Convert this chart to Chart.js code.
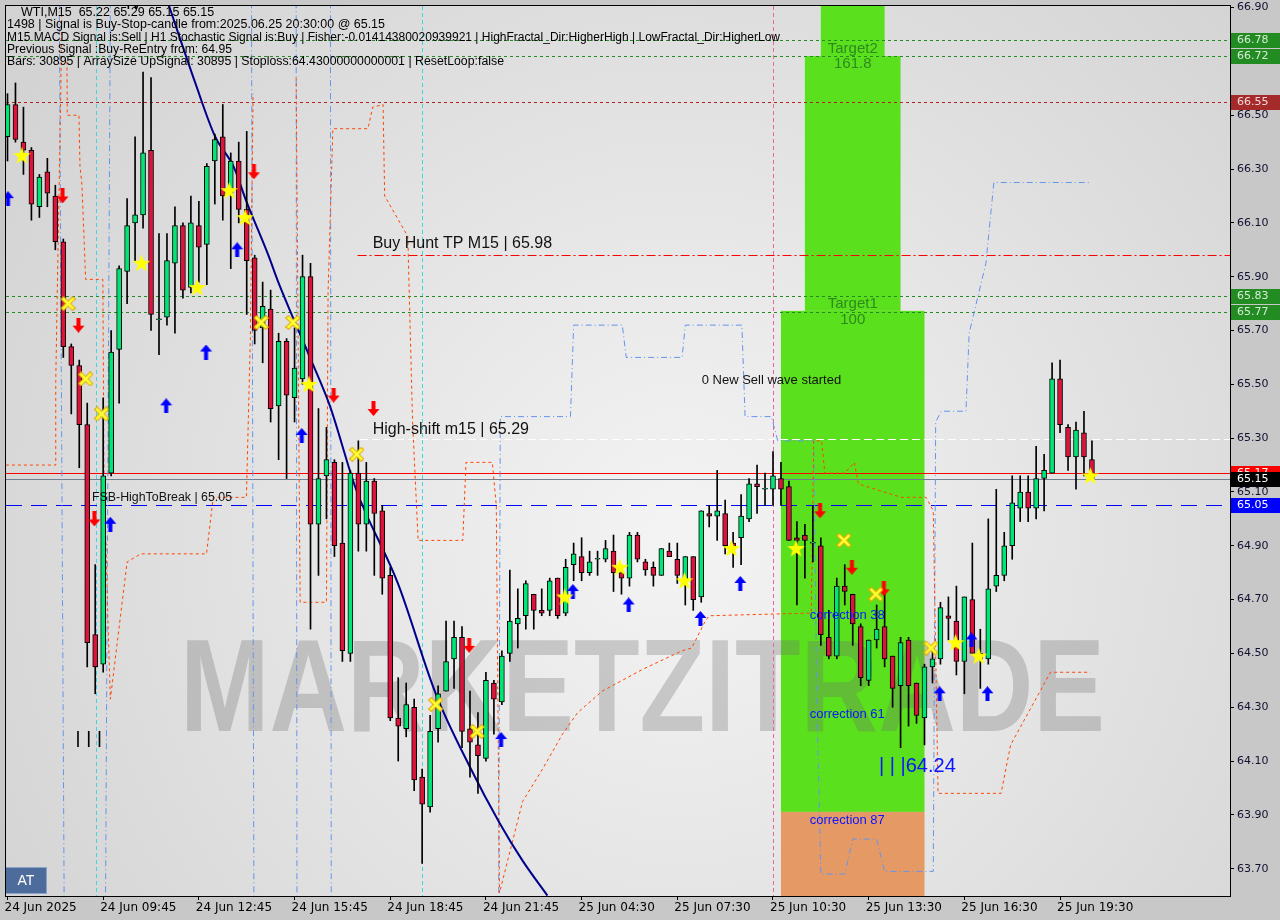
<!DOCTYPE html>
<html>
<head>
<meta charset="utf-8">
<title>WTI M15</title>
<script src="https://cdn.jsdelivr.net/npm/chart.js@4.4.1/dist/chart.umd.min.js"></script>
<style>
  html, body { margin: 0; padding: 0; background: #c8c8c8; }
  canvas { display: block; }
</style>
</head>
<body>
<canvas id="wti" width="1280" height="920"></canvas>
<script>
// candles, 15 min bars, 24 Jun -> 25 Jun 2025
const opens = [66.42,66.54,66.40,66.37,66.16,66.29,66.20,66.03,65.64,65.57,
  65.35,64.57,64.46,65.17,65.63,65.92,66.10,66.13,66.37,65.74,
  65.75,65.95,66.09,65.86,66.09,66.02,66.33,66.42,66.21,66.33,
  66.15,65.97,65.71,65.78,65.42,65.66,65.45,65.52,65.90,64.98,
  65.16,65.21,64.91,64.50,65.17,64.98,65.14,65.03,64.79,64.26,
  64.22,64.30,64.04,63.93,64.22,64.36,64.48,64.56,64.22,64.16,
  64.11,64.39,64.32,64.50,64.61,64.64,64.72,64.66,64.66,64.78,
  64.65,64.83,64.86,64.80,64.85,64.85,64.88,64.80,64.78,64.94,
  64.84,64.82,64.79,64.88,64.85,64.76,64.86,64.71,65.02,65.01,
  65.02,64.91,64.93,65.00,65.13,65.11,65.11,65.15,65.12,64.93,
  64.94,64.91,64.90,64.56,64.49,64.75,64.72,64.60,64.40,64.55,
  64.60,64.49,64.38,64.55,64.39,64.26,64.45,64.48,64.64,64.62,
  64.47,64.70,64.48,64.48,64.75,64.79,64.90,65.04,65.10,65.04,
  65.15,65.17,65.52,65.34,65.23,65.32,65.22];
const highs = [66.58,66.62,66.53,66.38,66.28,66.34,66.24,66.04,65.65,65.59,
  65.43,64.83,65.45,65.70,65.94,66.19,66.42,66.66,66.64,66.06,
  66.06,66.16,66.10,66.20,66.18,66.32,66.43,66.54,66.36,66.40,
  66.44,65.98,65.88,65.85,65.69,65.67,65.71,65.98,65.95,65.41,
  65.34,65.22,65.21,65.18,65.29,65.21,65.15,65.05,64.82,64.41,
  64.39,64.33,64.07,64.27,64.38,64.62,64.62,64.60,64.36,64.28,
  64.43,64.40,64.51,64.81,64.74,64.77,64.72,64.74,64.78,64.78,
  64.85,64.91,64.93,64.88,64.88,64.92,64.94,64.82,64.95,64.95,
  64.85,64.84,64.89,64.91,64.91,64.86,64.86,65.03,65.05,65.18,
  65.07,64.95,65.09,65.15,65.20,65.17,65.25,65.21,65.14,64.99,
  64.98,65.05,64.93,64.66,64.78,64.83,64.72,64.61,64.55,64.68,
  64.74,64.49,64.56,64.56,64.39,64.46,64.52,64.69,64.71,64.75,
  64.71,64.91,64.59,65.00,65.11,64.95,65.16,65.16,65.16,65.27,
  65.24,65.58,65.59,65.35,65.36,65.40,65.29];
const lows = [66.33,66.40,66.28,66.11,66.12,66.16,66.00,65.60,65.39,65.19,
  64.45,64.35,64.43,65.16,65.43,65.80,65.96,66.08,65.70,65.61,
  65.72,65.69,65.82,65.84,65.88,65.87,66.17,66.11,65.93,66.10,
  65.76,65.65,65.58,65.36,65.22,65.15,65.36,65.50,64.59,64.79,
  65.00,64.86,64.47,64.47,64.88,64.88,64.79,64.72,64.25,64.10,
  64.19,63.99,63.72,63.91,64.17,64.36,64.37,64.15,64.04,63.98,
  64.10,64.20,64.31,64.47,64.52,64.59,64.59,64.64,64.64,64.63,
  64.64,64.77,64.77,64.79,64.79,64.84,64.73,64.72,64.75,64.84,
  64.79,64.75,64.79,64.86,64.76,64.68,64.66,64.69,64.97,64.92,
  64.87,64.82,64.83,64.99,65.02,65.05,65.05,65.05,64.92,64.68,
  64.78,64.84,64.53,64.48,64.48,64.68,64.53,64.38,64.38,64.52,
  64.45,64.30,64.15,64.23,64.24,64.16,64.39,64.46,64.55,64.42,
  64.35,64.50,64.37,64.46,64.73,64.77,64.85,64.99,64.99,65.00,
  65.03,65.17,65.32,65.18,65.11,65.16,65.15];
const closes = [66.54,66.41,66.37,66.17,66.27,66.21,66.03,65.64,65.57,65.35,
  64.54,64.45,65.16,65.62,65.93,66.09,66.13,66.36,65.76,65.74,
  65.96,66.09,65.85,66.10,66.01,66.31,66.41,66.20,66.33,66.15,
  65.96,65.70,65.79,65.41,65.66,65.46,65.56,65.90,64.98,65.15,
  65.22,64.90,64.51,65.17,64.98,65.14,65.02,64.78,64.26,64.23,
  64.31,64.03,63.94,64.21,64.35,64.47,64.56,64.21,64.17,64.12,
  64.40,64.33,64.49,64.62,64.63,64.76,64.66,64.65,64.77,64.64,
  64.82,64.87,64.80,64.84,64.85,64.89,64.80,64.78,64.94,64.85,
  64.81,64.79,64.89,64.86,64.79,64.86,64.70,65.03,65.01,65.03,
  64.90,64.89,65.01,65.13,65.12,65.11,65.16,65.11,64.92,64.92,
  64.92,64.91,64.57,64.49,64.75,64.73,64.61,64.41,64.55,64.59,
  64.48,64.37,64.54,64.38,64.27,64.45,64.48,64.67,64.63,64.47,
  64.71,64.50,64.50,64.74,64.79,64.90,65.06,65.10,65.04,65.15,
  65.18,65.52,65.35,65.23,65.33,65.23,65.15];

const xTickBars = [0, 12, 24, 36, 48, 60, 72, 84, 96, 108, 120, 132];
const xTickLabels = ["24 Jun 2025", "24 Jun 09:45", "24 Jun 12:45", "24 Jun 15:45", "24 Jun 18:45", "24 Jun 21:45",
  "25 Jun 04:30", "25 Jun 07:30", "25 Jun 10:30", "25 Jun 13:30", "25 Jun 16:30", "25 Jun 19:30"];
const yTickValues = [63.70, 63.90, 64.10, 64.30, 64.50, 64.70, 64.90, 65.10, 65.30, 65.50, 65.70, 65.90, 66.10, 66.30, 66.50, 66.70, 66.90];

// horizontal levels (price, first bar; -1 = whole chart)
const levelPrices = [66.78, 66.72, 66.55, 65.98, 65.83, 65.77, 65.295, 65.17, 65.15, 65.05];
const levelFrom = [-1, -1, -1, 43.9, -1, -1, 44.2, -1, -1, -1];
const buyHuntTP = 65.98, highShift = 65.29, fsbHigh = 65.05, lowMark = 64.24;

// target / correction zones
const zoneFrom = [97, 100, 102, 97];
const zoneTo = [115, 112, 110, 115];
const zoneLow = [63.911, 65.773, 66.72, 63.40];
const zoneHigh = [65.773, 66.72, 67.10, 63.911];
const correctionLevels = [64.643, 64.273, 63.880];
const correctionNames = ["correction 38", "correction 61", "correction 87"];

// vertical signal lines
const vlineBars = [11.06, 51.94, 95.94];

// regression curve
const curveBars = [20.1, 23.55, 26.05, 28.34, 29.96, 32.71, 33.96, 37.93, 40.43, 43.71, 48.96, 53.71, 57.96, 61.71, 64.59, 67.71];
const curvePrices = [66.92, 66.62, 66.42, 66.31, 66.18, 65.98, 65.88, 65.60, 65.42, 65.11, 64.76, 64.35, 64.08, 63.87, 63.73, 63.60];

// orange trailing lines (null breaks a segment)
const orangeBars = [-0.2, 6.05, 6.05, 6.7, 6.8, null,
  7.45, 7.5, 8.96, 9.09, 9.34, 9.8, 11.96, 12.09, 12.6, 12.9, 15.0, 16.7, 24.96, 25.8, 29.96, 30.46, 30.8, null,
  36.2, 36.7, 40.0, 40.2, 40.8, 45.2, 45.8, 47.1, 47.3, 50.2, 50.8, 51.5, 57.1, 57.5, 60.8, 61.3, 61.7,
  64.6, 67.1, 69.6, 71.5, 74.6, 79.6, 84.6, 85.8, 87.5, 88.0, 100.8, 101.1, 102.1, 102.5, 105.0, 106.2, 106.7,
  112.1, 115.2, 116.1, 116.7, 124.6, 125.8, 130.8, 135.8];
const orangePrices = [65.20, 65.20, 65.51, 66.62, 66.92, null,
  66.70, 66.50, 66.50, 66.31, 66.24, 65.89, 65.89, 65.20, 64.62, 64.33, 64.84, 64.87, 64.87, 65.08, 65.08, 65.68, 66.58, null,
  66.64, 64.69, 64.69, 65.84, 66.45, 66.45, 66.53, 66.54, 66.20, 66.05, 65.36, 64.92, 64.92, 65.21, 65.21, 65.05, 63.61,
  63.95, 64.07, 64.20, 64.28, 64.36, 64.44, 64.51, 64.52, 64.62, 64.64, 64.65, 65.29, 65.29, 65.17, 65.17, 65.21, 65.13,
  65.08, 65.08, 65.03, 63.98, 63.98, 64.16, 64.43, 64.43];

// blue band lines
const blueBars = [6.5, 7.1, null, 12.9, 12.3, null, 30.6, 30.9, null, 36.2, 36.3, null, 40.5, 40.6, null,
  61.6, 61.8, 70.6, 71.0, 77.1, 77.6, 84.6, 85.0, 92.1, 92.5, 95.8, 96.6, 101.1, 101.5, 102.0, 105.0, 106.0,
  109.0, 110.0, 116.1, 116.4, 117.1, 120.2, 120.6, 122.7, 123.7, 135.8];
const bluePrices = [66.92, 63.60, null, 66.92, 63.60, null, 66.92, 63.60, null, 66.92, 63.60, null, 66.92, 63.60, null,
  63.61, 65.38, 65.38, 65.72, 65.72, 65.60, 65.60, 65.72, 65.72, 65.38, 65.38, 65.29, 65.29, 64.32, 63.68, 63.68, 63.81,
  63.81, 63.69, 63.69, 65.36, 65.40, 65.40, 65.69, 65.95, 66.25, 66.25];

// signal marks
const starBars = [1.81, 16.8, 23.8, 27.8, 29.8, 37.8, 69.9, 76.8, 84.9, 90.8, 98.9, 118.9, 121.8, 135.8];
const starPrices = [66.35, 65.95, 65.86, 66.22, 66.12, 65.50, 64.71, 64.82, 64.77, 64.89, 64.89, 64.54, 64.49, 65.16];
const crossBars = [7.6, 9.8, 11.8, 31.8, 35.8, 43.8, 53.7, 58.9, 104.9, 108.9, 115.8];
const crossPrices = [65.80, 65.52, 65.39, 65.73, 65.73, 65.24, 64.31, 64.21, 64.92, 64.72, 64.52];
const sellBars = [6.9, 8.9, 10.9, 30.9, 40.9, 45.9, 57.9, 101.9, 105.9, 109.9];
const sellPrices = [66.20, 65.72, 65.00, 66.29, 65.46, 65.41, 64.53, 65.03, 64.82, 64.74];
const buyBars = [0.06, 12.9, 19.9, 24.9, 28.8, 36.9, 61.9, 70.9, 77.9, 86.9, 91.9, 116.9, 120.9, 122.9];
const buyPrices = [66.19, 64.98, 65.42, 65.62, 66.00, 65.31, 64.18, 64.73, 64.68, 64.63, 64.76, 64.35, 64.55, 64.35];

// axis price tags
const tagPrices = [66.78, 66.72, 66.55, 65.83, 65.77, 65.17, 65.15, 65.05];
const tagColors = ["#228b22", "#228b22", "#a52a2a", "#228b22", "#228b22", "#ff0000", "#000000", "#0000ff"];
const tagText = ["#d6ecd6", "#d6ecd6", "#f2dada", "#d6ecd6", "#d6ecd6", "#ffffff", "#ffffff", "#ffffff"];

const BULL = "#00e676", BEAR = "#dc143c";
const pts = (xs, ys) => xs.map((x, i) => ({x: x, y: x === null ? null : ys[i]}));

// ---- point images ----
function starImg() {
  const c = document.createElement("canvas"); c.width = 19; c.height = 19;
  const g = c.getContext("2d");
  g.beginPath();
  for (let k = 0; k < 10; k++) {
    const r = k % 2 ? 3.8 : 9.2, a = -Math.PI / 2 + k * Math.PI / 5;
    g.lineTo(9.5 + r * Math.cos(a), 10 + r * Math.sin(a));
  }
  g.closePath(); g.fillStyle = "#ffff00"; g.fill();
  return c;
}
function crossImg() {
  const c = document.createElement("canvas"); c.width = 15; c.height = 15;
  const g = c.getContext("2d");
  const x = () => { g.beginPath(); g.moveTo(3, 3); g.lineTo(12, 12); g.moveTo(12, 3); g.lineTo(3, 12); g.stroke(); };
  g.lineCap = "square";
  g.strokeStyle = "#e0a800"; g.lineWidth = 4.5; x();
  g.strokeStyle = "#ffff33"; g.lineWidth = 2.5; x();
  return c;
}
function arrowImg(color, down) {
  const c = document.createElement("canvas"); c.width = 13; c.height = 15;
  const g = c.getContext("2d");
  const p = [[6.5, 0], [12.5, 7], [8.5, 7], [8.5, 15], [4.5, 15], [4.5, 7], [0.5, 7]];
  g.beginPath();
  p.forEach(([px, py]) => g.lineTo(px, down ? 15 - py : py));
  g.closePath(); g.fillStyle = color; g.fill();
  return c;
}

// ---- plugins ----
const backPlugin = {
  id: "back",
  beforeDraw(chart) {
    const {ctx, chartArea: a} = chart;
    ctx.save();
    ctx.fillStyle = "#c8c8c8";
    ctx.fillRect(0, 0, chart.width, chart.height);
    const gr = ctx.createRadialGradient(a.left + a.width * 0.55, a.top + a.height * 0.6, 20, a.left + a.width * 0.55, a.top + a.height * 0.6, 800);
    gr.addColorStop(0, "#f3f3f3");
    gr.addColorStop(1, "#d3d3d3");
    ctx.fillStyle = gr;
    ctx.fillRect(a.left, a.top, a.width, a.height);
    ctx.restore();
  }
};

const levelStyles = [
  {c: "#228b22", d: [3, 3]}, {c: "#228b22", d: [3, 3]}, {c: "#b22222", d: [3, 3]},
  {c: "#ff0000", d: [9, 3, 2, 3]}, {c: "#228b22", d: [3, 3]}, {c: "#228b22", d: [3, 3]},
  {c: "#ffffff", d: [8, 4]}, {c: "#ff0000", d: []}, {c: "#708090", d: []}, {c: "#0000ff", d: [16, 9]}
];
const zoneColors = ["#5be01d", "#5be01d", "#5be01d", "#e59a66"];

const objectsPlugin = {
  id: "objects",
  beforeDatasetsDraw(chart) {
    const {ctx, chartArea: a, scales: {x, y}} = chart;
    ctx.save();
    ctx.beginPath(); ctx.rect(a.left, a.top, a.width, a.height); ctx.clip();

    // zones
    zoneFrom.forEach((f, i) => {
      const x0 = x.getPixelForValue(f), x1 = x.getPixelForValue(zoneTo[i]);
      const y0 = y.getPixelForValue(zoneHigh[i]), y1 = y.getPixelForValue(zoneLow[i]);
      ctx.fillStyle = zoneColors[i];
      ctx.fillRect(x0, y0, x1 - x0, y1 - y0);
    });

    // watermark
    ctx.save();
    ctx.font = "bold 100px 'Liberation Sans'";
    const wm = "MARKETZITRADE";
    const w = ctx.measureText(wm).width;
    ctx.translate(180, 731);
    ctx.scale(925 / w, 1.32);
    ctx.fillStyle = "rgba(110,110,110,0.3)";
    ctx.textBaseline = "alphabetic";
    ctx.fillText(wm, 0, 0);
    ctx.restore();

    // vertical signal lines
    ctx.lineWidth = 1;
    vlineBars.forEach((b, i) => {
      const px = Math.round(x.getPixelForValue(b)) + 0.5;
      ctx.strokeStyle = i < 2 ? "#3fd6e0" : "#e8689c";
      ctx.setLineDash([4, 3]);
      ctx.beginPath(); ctx.moveTo(px, a.top); ctx.lineTo(px, a.bottom); ctx.stroke();
    });

    // horizontal levels
    levelPrices.forEach((p, i) => {
      const py = Math.round(y.getPixelForValue(p)) + 0.5;
      const x0 = levelFrom[i] < 0 ? a.left : x.getPixelForValue(levelFrom[i]);
      ctx.strokeStyle = levelStyles[i].c;
      ctx.setLineDash(levelStyles[i].d);
      ctx.beginPath(); ctx.moveTo(x0, py); ctx.lineTo(a.right, py); ctx.stroke();
    });
    ctx.restore();
  },
  afterDatasetsDraw(chart) {
    const {ctx, chartArea: a, scales: {x, y}} = chart;
    ctx.save();
    ctx.beginPath(); ctx.rect(a.left, a.top, a.width, a.height); ctx.clip();
    ctx.textBaseline = "middle";

    // header
    const n = closes.length - 1;
    const head = [
      "WTI,M15  " + [opens[n], highs[n], lows[n], closes[n]].map(v => v.toFixed(2)).join(" "),
      "1498 | Signal is Buy-Stop-candle from:2025.06.25 20:30:00 @ " + closes[n].toFixed(2),
      "M15 MACD Signal is:Sell | H1 Stochastic Signal is:Buy | Fisher:-0.01414380020939921 | HighFractal_Dir:HigherHigh | LowFractal_Dir:HigherLow",
      "Previous Signal :Buy-ReEntry from: 64.95",
      "Bars: 30895 | ArraySize UpSignal: 30895 | Stoploss:64.43000000000001 | ResetLoop:false"
    ];
    const headW = [198, 378, 773, 225, 497];
    ctx.fillStyle = "#000000";
    ctx.font = "12.5px 'Liberation Sans'";
    head.forEach((t, i) => ctx.fillText(t, i === 0 ? 21 : 7, 12.5 + i * 12.3, headW[i]));

    ctx.font = "16px 'DejaVu Sans'";
    ctx.fillText("IV", 126, 5);

    // level captions
    ctx.fillStyle = "#111111";
    ctx.font = "16px 'Liberation Sans'";
    ctx.fillText("Buy Hunt TP M15 | " + buyHuntTP.toFixed(2), x.getPixelForValue(45.8), y.getPixelForValue(buyHuntTP) - 12, 181);
    ctx.fillText("High-shift m15 | " + highShift.toFixed(2), x.getPixelForValue(45.8), y.getPixelForValue(highShift) - 11, 162);
    ctx.font = "12.5px 'Liberation Sans'";
    ctx.fillText("FSB-HighToBreak | " + fsbHigh.toFixed(2), x.getPixelForValue(10.6), y.getPixelForValue(fsbHigh) - 8, 140);
    ctx.font = "13px 'Liberation Sans'";
    ctx.fillText("0 New Sell wave started", x.getPixelForValue(87.06), y.getPixelForValue(65.513));

    // target captions
    ctx.textAlign = "center";
    ctx.fillStyle = "rgba(30,110,30,0.75)";
    ctx.font = "15px 'Liberation Sans'";
    const cx = x.getPixelForValue(106);
    ctx.fillText("Target2", cx, y.getPixelForValue(zoneHigh[1]) - 7);
    ctx.fillText("161.8", cx, y.getPixelForValue(zoneHigh[1]) + 8);
    ctx.fillText("Target1", cx, y.getPixelForValue(zoneHigh[0]) - 7);
    ctx.fillText("100", cx, y.getPixelForValue(zoneHigh[0]) + 9);

    // corrections
    ctx.textAlign = "left";
    ctx.fillStyle = "#0a14ff";
    ctx.font = "13px 'Liberation Sans'";
    correctionLevels.forEach((p, i) => ctx.fillText(correctionNames[i], x.getPixelForValue(100.6), y.getPixelForValue(p)));

    ctx.font = "20px 'Liberation Sans'";
    ctx.fillText("| | |" + lowMark.toFixed(2), x.getPixelForValue(109.3), y.getPixelForValue(64.08));

    ctx.fillStyle = "#000000";
    ctx.font = "bold 15px 'DejaVu Sans'";
    ctx.fillText("| | |", x.getPixelForValue(8.5), y.getPixelForValue(64.18));

    // AT button
    ctx.fillStyle = "#4d6c9c";
    ctx.fillRect(5, 867, 42, 27);
    ctx.strokeStyle = "#8aa2c8"; ctx.lineWidth = 1;
    ctx.strokeRect(5.5, 867.5, 41, 26);
    ctx.fillStyle = "#ffffff";
    ctx.textAlign = "center";
    ctx.font = "14px 'Liberation Sans'";
    ctx.fillText("AT", 26, 881);
    ctx.restore();
  },
  afterDraw(chart) {
    const {ctx, chartArea: a, scales: {y}} = chart;
    ctx.save();
    // frame
    ctx.strokeStyle = "#000000"; ctx.lineWidth = 1;
    ctx.strokeRect(a.left - 0.5, a.top - 0.5, a.width + 1, a.height + 1);
    // price tags
    ctx.font = "11px 'DejaVu Sans'";
    ctx.textBaseline = "middle";
    tagPrices.forEach((p, i) => {
      const py = Math.round(y.getPixelForValue(p));
      ctx.fillStyle = tagColors[i];
      ctx.fillRect(a.right + 1, py - 7, chart.width - a.right - 1, 15);
      ctx.fillStyle = tagText[i];
      ctx.fillText(p.toFixed(2), a.right + 7, py + 0.5);
    });
    ctx.restore();
  }
};

const line = (xs, ys, color, dash, order) => ({
  type: "line", data: pts(xs, ys), borderColor: color, borderWidth: 1, borderDash: dash,
  pointRadius: 0, tension: 0, spanGaps: false, order: order
});
const marks = (xs, ys, img) => ({
  type: "line", data: pts(xs, ys), showLine: false, pointStyle: img, pointRadius: 5, order: 0
});

new Chart(document.getElementById("wti"), {
  type: "bar",
  data: {
    datasets: [
      line(orangeBars, orangePrices, "#ff4500", [3, 3], 6),
      line(blueBars, bluePrices, "#6495ed", [6, 3, 1, 3], 6),
      {
        type: "line", data: pts(curveBars, curvePrices), borderColor: "#00008b", borderWidth: 2,
        pointRadius: 0, cubicInterpolationMode: "monotone", order: 5
      },
      {
        data: lows.map((l, i) => ({x: i, y: [l, highs[i]]})),
        backgroundColor: "#000000", borderWidth: 0, barThickness: 1, grouped: false, order: 4
      },
      {
        data: opens.map((o, i) => ({x: i, y: [o, closes[i]]})),
        backgroundColor: opens.map((o, i) => closes[i] >= o ? BULL : BEAR),
        borderColor: "#000000", borderWidth: 1, borderSkipped: false,
        barThickness: 5, minBarLength: 1, grouped: false, order: 3
      },
      marks(starBars, starPrices, starImg()),
      marks(crossBars, crossPrices, crossImg()),
      marks(sellBars, sellPrices, arrowImg("#ff0000", true)),
      marks(buyBars, buyPrices, arrowImg("#0000ff", false))
    ]
  },
  options: {
    responsive: false,
    animation: false,
    events: [],
    layout: {padding: {left: 2, top: 3, right: 0, bottom: 0}},
    plugins: {legend: {display: false}, tooltip: {enabled: false}},
    scales: {
      x: {
        type: "linear", min: -0.1875, max: 153.3125, offset: false,
        grid: {offset: false, drawOnChartArea: false, tickLength: 4, color: "#000000"},
        border: {display: false},
        afterBuildTicks: s => { s.ticks = xTickBars.map(v => ({value: v})); },
        afterFit: s => { s.height = 24; s.paddingLeft = 0; s.paddingRight = 0; },
        ticks: {
          align: "start", autoSkip: false, maxRotation: 0, padding: 1, labelOffset: -3, color: "#000000",
          font: {family: "DejaVu Sans", size: 12},
          callback: v => xTickLabels[xTickBars.indexOf(v)]
        }
      },
      y: {
        type: "linear", position: "right", min: 63.5985, max: 66.906,
        grid: {drawOnChartArea: false, tickLength: 4, color: "#000000"},
        border: {display: false},
        afterBuildTicks: s => { s.ticks = yTickValues.map(v => ({value: v})); },
        afterFit: s => { s.width = 50; s.paddingTop = 0; s.paddingBottom = 0; },
        ticks: {
          padding: 3, color: "#101030", font: {family: "DejaVu Sans", size: 11},
          callback: v => v.toFixed(2)
        }
      }
    }
  },
  plugins: [backPlugin, objectsPlugin]
});
</script>
</body>
</html>
